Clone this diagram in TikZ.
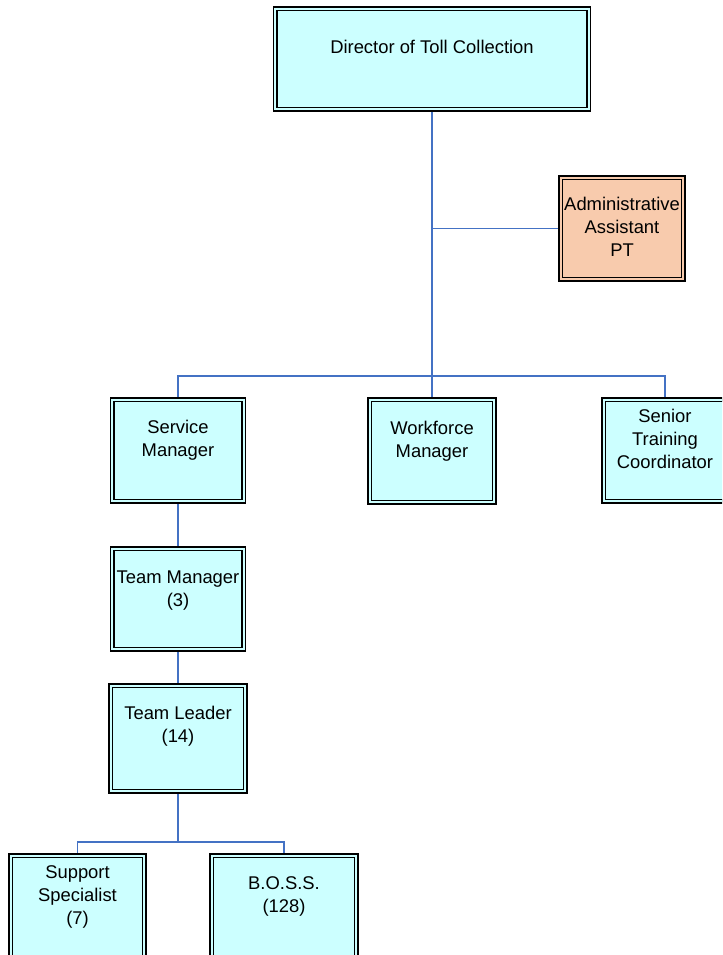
\documentclass[tikz,border=0pt]{standalone}
\usepackage{fontspec}
\setmainfont{Liberation Sans}
\usepackage{xcolor}
\usepackage{tikz}
\usetikzlibrary{backgrounds}

\definecolor{boxfill}{RGB}{204,255,255}
\definecolor{admfill}{RGB}{248,203,173}
\definecolor{linkblue}{RGB}{68,114,196}
% testo alzato dentro il riquadro
\newcommand{\boxtext}[2][7.5pt]{\raisebox{#1}[\height][\depth]{\begin{tabular}{@{}c@{}}#2\end{tabular}}}

\begin{document}
\begin{tikzpicture}[x=0.75pt,y=-0.75pt,
  box/.style={draw=black,line width=1.15pt,double=boxfill,double distance=1.5pt,
    fill=boxfill,inner sep=0pt,minimum width=98.9pt,minimum height=76.3pt,
    font=\fontsize{13.8}{17.25}\selectfont},
  link/.style={draw=linkblue,line width=1.1pt}]
  \useasboundingbox (0,0) rectangle (722,955);
  \clip (0,0) rectangle (722,955);

  % Direzione
  \node[box,minimum width=235pt,minimum height=75.6pt] (dir) at (432,59) {\boxtext{Director of Toll Collection}};
  \node[box,fill=admfill,double=admfill,minimum width=92.1pt] (adm) at (622,228.5) {\boxtext[0pt]{Administrative\\Assistant\\PT}};

  % Manager
  \node[box] (sm) at (178,450.5) {\boxtext{Service\\Manager}};
  \node[box,minimum width=93.6pt,minimum height=77.1pt] (wf) at (432,451) {\boxtext{Workforce\\Manager}};
  \node[box,minimum width=92.1pt] (stc) at (665,450.5) {\boxtext{Senior\\Training\\Coordinator}};

  % Team
  \node[box,minimum height=75.6pt] (tm) at (178,599) {\boxtext[6.5pt]{Team Manager\\(3)}};
  \node[box,minimum width=101.1pt,minimum height=79.4pt] (tl) at (178,738.5) {\boxtext[9pt]{Team Leader\\(14)}};
  \node[box,minimum width=100.4pt] (ss) at (77.5,906.5) {\boxtext{Support\\Specialist\\(7)}};
  \node[box,minimum width=108.6pt] (boss) at (284,906.5) {\boxtext{B.O.S.S.\\(128)}};

  \coordinate (bus) at (432,376);
  \coordinate (fork) at (178,842);

  % Collegamenti
  \begin{scope}[on background layer]
    \draw[link] (dir.south) -- (bus);
    \draw[link] (adm.west) -- (adm.west -| bus);
    \draw[link] (sm.north) |- (bus) -| (stc.north);
    \draw[link] (wf.north) -- (bus);
    \draw[link] (sm.south) -- (tm.north);
    \draw[link] (tm.south) -- (tl.north);
    \draw[link] (tl.south) -- (fork);
    \draw[link] (ss.north) |- (fork) -| (boss.north);
  \end{scope}
\end{tikzpicture}
\end{document}
